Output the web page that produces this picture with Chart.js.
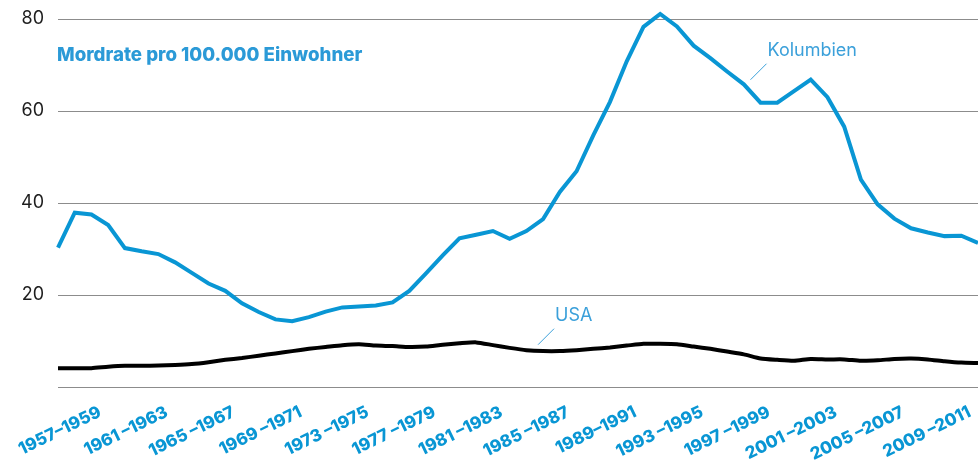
<!DOCTYPE html>
<html lang="de">
<head>
  <meta charset="UTF-8">
  <title>Mordrate Kolumbien / USA</title>
  <script src="https://cdn.jsdelivr.net/npm/chart.js"></script>
  <style>
    html, body { margin: 0; padding: 0; background: #fff; }
    .chart-box { position: relative; width: 978px; height: 461px; }
  </style>
</head>
<body>
  <div class="chart-box">
    <canvas id="murder-chart"></canvas>
  </div>

  <script>
    // 3-year periods, one per point
    const periods = [
      '1957–1959', '1958–1960', '1959–1961', '1960–1962', '1961–1963', '1962–1964', '1963–1965', '1964–1966',
      '1965–1967', '1966–1968', '1967–1969', '1968–1970', '1969–1971', '1970–1972', '1971–1973', '1972–1974',
      '1973–1975', '1974–1976', '1975–1977', '1976–1978', '1977–1979', '1978–1980', '1979–1981', '1980–1982',
      '1981–1983', '1982–1984', '1983–1985', '1984–1986', '1985–1987', '1986–1988', '1987–1989', '1988–1990',
      '1989–1991', '1990–1992', '1991–1993', '1992–1994', '1993–1995', '1994–1996', '1995–1997', '1996–1998',
      '1997–1999', '1998–2000', '1999–2001', '2000–2002', '2001–2003', '2002–2004', '2003–2005', '2004–2006',
      '2005–2007', '2006–2008', '2007–2009', '2008–2010', '2009–2011', '2010–2012', '2011–2013', '2012–2014'
    ];

    // labels shown on the axis (every 4th period)
    const axisLabels = [
      '1957–1959', '1961 –1963', '1965 –1967', '1969 –1971', '1973 –1975', '1977 –1979', '1981 –1983',
      '1985 –1987', '1989–1991', '1993 –1995', '1997 –1999', '2001 –2003', '2005 –2007', '2009 –2011'
    ];

    const kolumbien = [
      30.3, 37.9, 37.5, 35.2, 30.2, 29.5, 28.9, 27.1, 24.8, 22.5,
      20.9, 18.2, 16.3, 14.7, 14.3, 15.2, 16.4, 17.3, 17.5, 17.7,
      18.4, 20.9, 24.7, 28.6, 32.3, 33.1, 33.9, 32.2, 33.9, 36.5,
      42.4, 46.9, 54.7, 62.0, 70.8, 78.3, 81.1, 78.4, 74.2, 71.5,
      68.6, 65.8, 61.8, 61.8, 64.3, 66.8, 63.0, 56.6, 45.1, 39.7,
      36.6, 34.5, 33.6, 32.8, 32.9, 31.3
    ];

    const usa = [
      4.1, 4.1, 4.1, 4.4, 4.6, 4.6, 4.7, 4.8, 5.0, 5.4,
      5.9, 6.3, 6.8, 7.3, 7.8, 8.3, 8.7, 9.1, 9.3, 9.0,
      8.9, 8.7, 8.8, 9.2, 9.5, 9.7, 9.1, 8.5, 8.0, 7.8,
      7.8, 8.0, 8.3, 8.6, 9.0, 9.4, 9.4, 9.3, 8.8, 8.3,
      7.7, 7.1, 6.2, 5.9, 5.7, 6.1, 6.0, 6.0, 5.7, 5.8,
      6.1, 6.2, 6.0, 5.6, 5.3, 5.2
    ];

    const yTicks = [0, 20, 40, 60, 80];

    const BLUE = '#0996d4';
    const LABEL_BLUE = '#3ba0da';

    // title and series names with leader lines
    const annotations = {
      id: 'annotations',
      afterDatasetsDraw(chart) {
        const { ctx, chartArea, scales } = chart;
        const x = scales.x, y = scales.y;
        ctx.save();

        ctx.fillStyle = '#2b9ad7';
        ctx.font = '800 18.7px Inter, "Open Sans", sans-serif';
        ctx.textBaseline = 'middle';
        ctx.fillText('Mordrate pro 100.000 Einwohner', chartArea.left - 1, chartArea.top + 36);

        function tag(text, idx, val) {
          const px = x.getPixelForValue(idx);
          const py = y.getPixelForValue(val);
          ctx.strokeStyle = LABEL_BLUE;
          ctx.lineWidth = 1;
          ctx.beginPath();
          ctx.moveTo(px, py);
          ctx.lineTo(px + 16, py - 16);
          ctx.stroke();
          ctx.fillStyle = LABEL_BLUE;
          ctx.font = '400 18px Inter, "Open Sans", sans-serif';
          ctx.textBaseline = 'middle';
          ctx.fillText(text, px + 17, py - 29);
        }
        tag('Kolumbien', 41.4, 66.8);
        tag('USA', 28.7, 9.2);

        ctx.restore();
      }
    };

    new Chart(document.getElementById('murder-chart'), {
      type: 'line',
      data: {
        labels: periods,
        datasets: [
          {
            label: 'Kolumbien',
            data: kolumbien,
            borderColor: BLUE,
            borderWidth: 4,
            pointRadius: 0,
            tension: 0,
            clip: false
          },
          {
            label: 'USA',
            data: usa,
            borderColor: '#000',
            borderWidth: 4,
            pointRadius: 0,
            tension: 0.2
          }
        ]
      },
      options: {
        responsive: true,
        maintainAspectRatio: false,
        animation: false,
        layout: { padding: { top: 19, left: 0, right: 0, bottom: 0 } },
        plugins: {
          legend: { display: false },
          tooltip: { enabled: false }
        },
        scales: {
          x: {
            grid: { display: false },
            border: { display: false },
            afterFit(scale) {
              scale.height = 74;
              scale.paddingLeft = 0;
              scale.paddingRight = 0;
            },
            ticks: {
              autoSkip: false,
              minRotation: 26,
              maxRotation: 26,
              labelOffset: 42,
              padding: 7,
              color: BLUE,
              font: { family: 'Inter, "Open Sans", sans-serif', size: 17, weight: '800' },
              callback: (val, idx) => idx % 4 === 0 ? axisLabels[idx / 4] : ''
            }
          },
          y: {
            min: 0,
            max: 80,
            afterBuildTicks(scale) {
              scale.ticks = yTicks.map(v => ({ value: v }));
            },
            afterFit(scale) {
              scale.width = 58;
              scale.paddingTop = 0;
              scale.paddingBottom = 0;
            },
            grid: { color: '#8c8c8c', lineWidth: 1, drawTicks: false },
            border: { display: false },
            ticks: {
              padding: 14,
              color: '#1e1e1e',
              font: { family: 'Inter, "Open Sans", sans-serif', size: 18 },
              callback: v => v === 0 ? '' : v
            }
          }
        }
      },
      plugins: [annotations]
    });
  </script>
</body>
</html>
